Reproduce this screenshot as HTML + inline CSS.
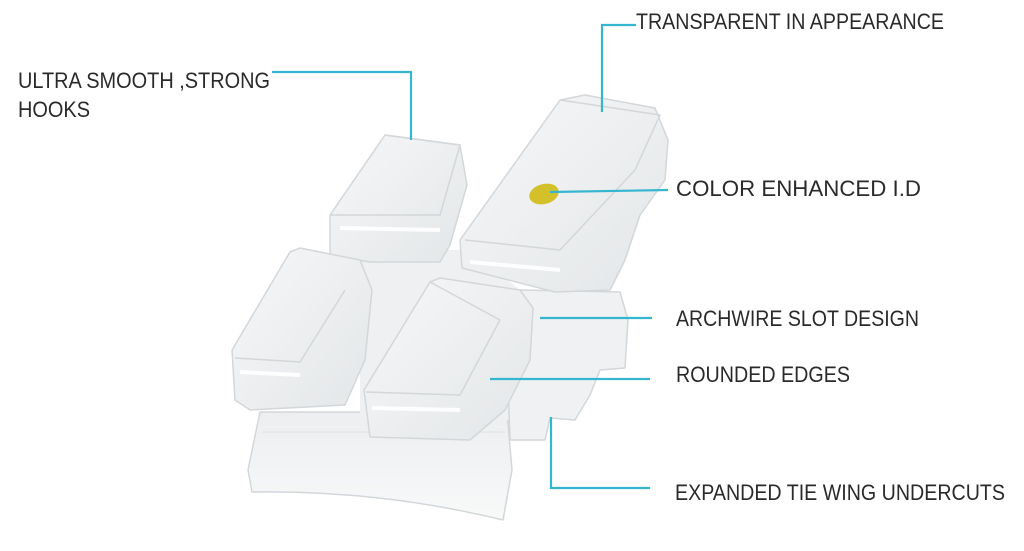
<!DOCTYPE html>
<html><head><meta charset="utf-8"><style>
html,body{margin:0;padding:0;background:#fff;width:1024px;height:551px;overflow:hidden}
svg{display:block}
text{font-family:"Liberation Sans",sans-serif;font-size:22px;fill:#2a2a2a}
</style></head><body>
<svg width="1024" height="551" viewBox="0 0 1024 551" xmlns="http://www.w3.org/2000/svg">
<defs>
<linearGradient id="g1" x1="0" y1="0" x2="1" y2="1"><stop offset="0" stop-color="#f6f7f8"/><stop offset="1" stop-color="#e3e6e8"/></linearGradient>
<linearGradient id="g2" x1="0" y1="0" x2="0" y2="1"><stop offset="0" stop-color="#eceef0"/><stop offset="1" stop-color="#f8f9f9"/></linearGradient>
</defs>
<g stroke="#d3d7da" stroke-width="1.5" stroke-linejoin="round">
<!-- base -->
<path d="M260,412 L507,412 L512,470 L503,520 Q380,490 252,492 L248,470 Z" fill="url(#g2)"/>
<path d="M262,432 L505,432" stroke="#e3e6e8" fill="none"/>
<!-- center body -->
<path d="M360,250 L470,250 L520,290 L510,420 L360,420 Z" fill="#eef0f1" stroke="none"/>
<!-- right side steps -->
<path d="M520,290 L620,292 L628,320 L625,368 L600,370 L590,395 L575,420 L550,418 L545,440 L510,440 L505,300 Z" fill="#eff1f2"/>
<!-- back left wing -->
<path d="M330,215 L385,135 L460,145 L467,185 L450,245 L440,262 L370,262 L330,255 Z" fill="url(#g1)"/>
<path d="M385,135 L460,145 L440,215 L330,215" fill="none"/>
<!-- back right wing -->
<path d="M460,240 L560,100 L585,95 L655,108 L668,140 L665,180 L640,215 L625,260 L610,290 L555,292 L462,268 Z" fill="url(#g1)"/>
<path d="M560,100 L660,115 L635,170 L560,250 L465,240" fill="none"/>
<!-- front left wing -->
<path d="M232,350 L290,252 L300,248 L360,260 L372,290 L365,360 L345,405 L250,410 L235,400 Z" fill="url(#g1)"/>
<path d="M235,358 L300,362 L345,290" fill="none"/>
<!-- front right wing -->
<path d="M364,390 L430,282 L440,278 L520,290 L533,308 L530,360 L505,410 L470,440 L370,437 Z" fill="url(#g1)"/>
<path d="M366,392 L460,395 L500,320 L430,282" fill="none"/>
</g>
<g stroke="#ffffff" stroke-width="4" fill="none" opacity="0.9">
<path d="M470,262 L560,270"/><path d="M240,372 L300,375"/><path d="M372,408 L460,410"/><path d="M340,228 L440,230"/>
</g>
<ellipse cx="544" cy="194" rx="15" ry="10" fill="#d4c12a" transform="rotate(-15 544 194)"/>
<g stroke="#35b6d0" stroke-width="2.2" fill="none">
<path d="M272,72 L411,72 L411,140"/>
<path d="M636,25 L602,25 L602,112"/>
<path d="M550,192 L668,190"/>
<path d="M540,318 L652,318"/>
<path d="M490,379 L650,379"/>
<path d="M551,417 L551,488 L650,488"/>
</g>
<text x="636" y="29" textLength="308" lengthAdjust="spacingAndGlyphs">TRANSPARENT IN APPEARANCE</text>
<text x="18" y="88" textLength="252" lengthAdjust="spacingAndGlyphs">ULTRA SMOOTH ,STRONG</text>
<text x="18" y="117" textLength="72" lengthAdjust="spacingAndGlyphs">HOOKS</text>
<text x="676" y="196" textLength="245" lengthAdjust="spacingAndGlyphs">COLOR ENHANCED I.D</text>
<text x="676" y="326" textLength="243" lengthAdjust="spacingAndGlyphs">ARCHWIRE SLOT DESIGN</text>
<text x="676" y="382" textLength="174" lengthAdjust="spacingAndGlyphs">ROUNDED EDGES</text>
<text x="675" y="500" textLength="330" lengthAdjust="spacingAndGlyphs">EXPANDED TIE WING UNDERCUTS</text>
</svg>
</body></html>
